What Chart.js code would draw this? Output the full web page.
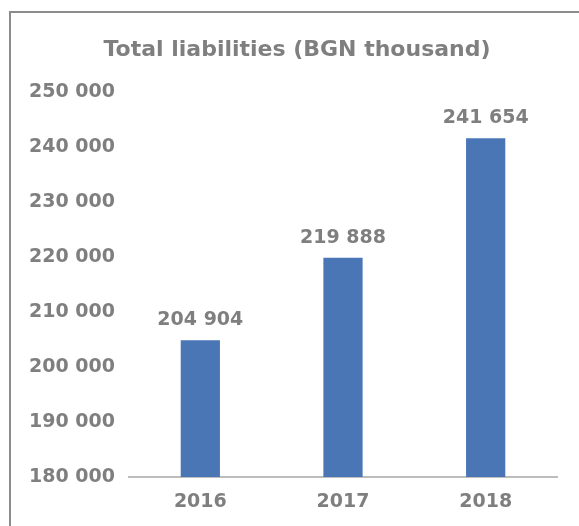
<!DOCTYPE html>
<html lang="en">
  <head>
    <meta charset="UTF-8">
    <title>Total liabilities</title>
    <script src="https://cdn.jsdelivr.net/npm/chart.js"></script>
    <style>
      html, body {
        margin: 0;
        padding: 0;
        background: #ffffff;
        overflow: hidden;
      }
      .chart-box {
        position: relative;
        width: 579px;
        height: 526px;
      }
    </style>
  </head>
  <body>
    <div class="chart-box">
      <canvas id="liabChart"></canvas>
    </div>

    <script>
      const years = ['2016', '2017', '2018'];
      const liabilities = [204904, 219888, 241654];
      const yMin = 180000;
      const yMax = 250000;
      const yStep = 10000;

      const textGray = '#7f7f7f';
      const fontFamily = '"DejaVu Sans", Verdana, sans-serif';

      // 204904 -> "204 904"
      function fmt(v) {
        return String(v).replace(/\B(?=(\d{3})+(?!\d))/g, ' ');
      }

      // grey frame on the left and top edges
      const frame = {
        id: 'frame',
        beforeDraw(chart) {
          const c = chart.ctx;
          c.save();
          c.strokeStyle = '#8c8c8c';
          c.lineWidth = 2;
          c.beginPath();
          c.moveTo(10, chart.height);
          c.lineTo(10, 12);
          c.lineTo(chart.width, 12);
          c.stroke();
          c.restore();
        }
      };

      // values printed above each bar
      const barValues = {
        id: 'barValues',
        afterDatasetsDraw(chart) {
          const c = chart.ctx;
          const meta = chart.getDatasetMeta(0);
          c.save();
          c.font = 'bold 19px ' + fontFamily;
          c.fillStyle = textGray;
          c.textAlign = 'center';
          c.textBaseline = 'middle';
          meta.data.forEach((bar, i) => {
            c.fillText(fmt(liabilities[i]), bar.x, bar.y - 20);
          });
          c.restore();
        }
      };

      const ctx = document.getElementById('liabChart').getContext('2d');
      new Chart(ctx, {
        type: 'bar',
        data: {
          labels: years,
          datasets: [{
            data: liabilities,
            backgroundColor: '#4a76b6',
            categoryPercentage: 1,
            barPercentage: 0.275
          }]
        },
        options: {
          responsive: true,
          maintainAspectRatio: false,
          animation: false,
          layout: {
            padding: { left: 15, right: 0, top: 0, bottom: 0 }
          },
          plugins: {
            legend: { display: false },
            tooltip: { enabled: false },
            title: {
              display: true,
              text: 'Total liabilities (BGN thousand)',
              color: textGray,
              font: { family: fontFamily, size: 22, weight: 'bold' },
              padding: { top: 37, bottom: 29 }
            }
          },
          scales: {
            y: {
              min: yMin,
              max: yMax,
              afterFit(scale) { scale.width = 114; },
              grid: { display: false, drawTicks: false },
              border: { display: false },
              ticks: {
                stepSize: yStep,
                padding: 14,
                color: textGray,
                font: { family: fontFamily, size: 19, weight: 'bold' },
                callback: (v) => fmt(v)
              }
            },
            // empty strip on the right side of the plot
            yRight: {
              position: 'right',
              min: yMin,
              max: yMax,
              afterFit(scale) { scale.width = 22; },
              grid: { display: false, drawTicks: false },
              border: { display: false },
              ticks: { display: false }
            },
            x: {
              afterFit(scale) { scale.height = 49; },
              grid: { display: false, drawTicks: false },
              border: { display: true, color: '#bdbdbd', width: 2 },
              ticks: {
                padding: 14,
                color: textGray,
                font: { family: fontFamily, size: 19, weight: 'bold' }
              }
            }
          }
        },
        plugins: [frame, barValues]
      });
    </script>
  </body>
</html>
